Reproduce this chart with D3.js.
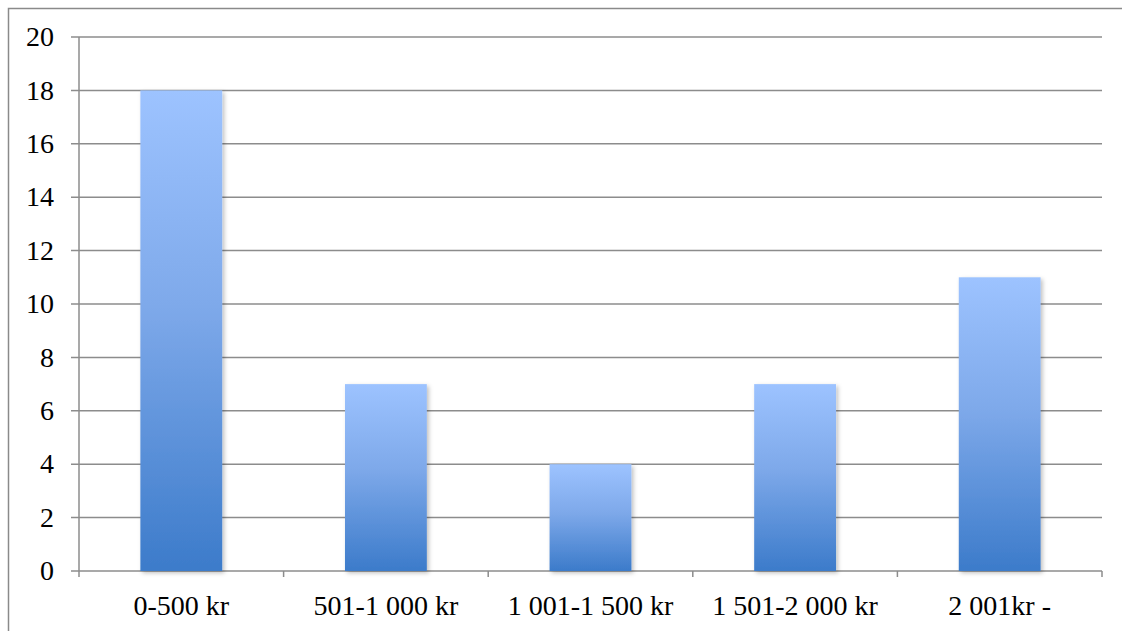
<!DOCTYPE html>
<html>
<head>
<meta charset="utf-8">
<script src="https://cdn.jsdelivr.net/npm/d3@7"></script>
<style>
  body { margin: 0; background: #fff; }
  text { font-family: "Liberation Serif", "DejaVu Serif", serif; fill: #000; }
</style>
</head>
<body>
<div id="chart"></div>
<script>
// chart data
var categories = ["0-500 kr", "501-1 000 kr", "1 001-1 500 kr", "1 501-2 000 kr", "2 001kr -"];
var values = [18, 7, 4, 7, 11];
var yTicks = [0, 2, 4, 6, 8, 10, 12, 14, 16, 18, 20];

var width = 1122, height = 631;
var margin = { left: 79, right: 20, top: 37, bottom: 60 };
var plotRight = 1102, plotBottom = 571;

var svg = d3.select("#chart").append("svg")
    .attr("width", width)
    .attr("height", height);

// outer frame (only left and top edges fall inside the picture)
svg.append("rect")
    .attr("x", 8.5).attr("y", 8.5)
    .attr("width", width).attr("height", height)
    .attr("fill", "none")
    .attr("stroke", "#8a8a8a")
    .attr("stroke-width", 1.5);

var defs = svg.append("defs");
var grad = defs.append("linearGradient")
    .attr("id", "barGrad")
    .attr("x1", 0).attr("y1", 0).attr("x2", 0).attr("y2", 1);
grad.append("stop").attr("offset", "0%").attr("stop-color", "#9dc3ff");
grad.append("stop").attr("offset", "45%").attr("stop-color", "#7ea9ea");
grad.append("stop").attr("offset", "100%").attr("stop-color", "#3c7bca");

var shadow = defs.append("filter").attr("id", "shadow")
    .attr("x", "-20%").attr("y", "-5%").attr("width", "150%").attr("height", "115%");
shadow.append("feDropShadow")
    .attr("dx", 2).attr("dy", 2).attr("stdDeviation", 2)
    .attr("flood-color", "#000").attr("flood-opacity", 0.25);

var x = d3.scaleBand()
    .domain(categories)
    .range([margin.left, plotRight])
    .paddingInner(0.6)
    .paddingOuter(0.3);

var xEdge = d3.scaleLinear()
    .domain([0, categories.length])
    .range([margin.left, plotRight]);

var y = d3.scaleLinear()
    .domain([0, 20])
    .range([plotBottom, margin.top]);

// gridlines with left tick stubs
svg.append("g").selectAll("line")
    .data(yTicks)
    .enter().append("line")
    .attr("x1", margin.left - 8)
    .attr("x2", plotRight)
    .attr("y1", function (d) { return y(d); })
    .attr("y2", function (d) { return y(d); })
    .attr("stroke", "#8c8c8c")
    .attr("stroke-width", 1.5);

// y tick labels
svg.append("g").selectAll("text")
    .data(yTicks)
    .enter().append("text")
    .attr("x", 54)
    .attr("y", function (d) { return y(d); })
    .attr("dy", "0.33em")
    .attr("text-anchor", "end")
    .style("font-size", "28px")
    .text(function (d) { return d; });

// y axis line
svg.append("line")
    .attr("x1", margin.left).attr("x2", margin.left)
    .attr("y1", margin.top).attr("y2", plotBottom + 6)
    .attr("stroke", "#8c8c8c").attr("stroke-width", 1.5);

// x tick marks at category boundaries
svg.append("g").selectAll("line")
    .data(d3.range(1, categories.length + 1))
    .enter().append("line")
    .attr("x1", function (d) { return xEdge(d); })
    .attr("x2", function (d) { return xEdge(d); })
    .attr("y1", plotBottom)
    .attr("y2", plotBottom + 6)
    .attr("stroke", "#8c8c8c").attr("stroke-width", 1.5);

// bars
svg.append("g").selectAll("rect")
    .data(values)
    .enter().append("rect")
    .attr("x", function (d, i) { return x(categories[i]); })
    .attr("y", function (d) { return y(d); })
    .attr("width", x.bandwidth())
    .attr("height", function (d) { return y(0) - y(d); })
    .attr("fill", "url(#barGrad)")
    .attr("filter", "url(#shadow)");

// x labels
svg.append("g").selectAll("text")
    .data(categories)
    .enter().append("text")
    .attr("x", function (d) { return x(d) + x.bandwidth() / 2; })
    .attr("y", 615)
    .attr("text-anchor", "middle")
    .style("font-size", "28px")
    .text(function (d) { return d; });
</script>
</body>
</html>
